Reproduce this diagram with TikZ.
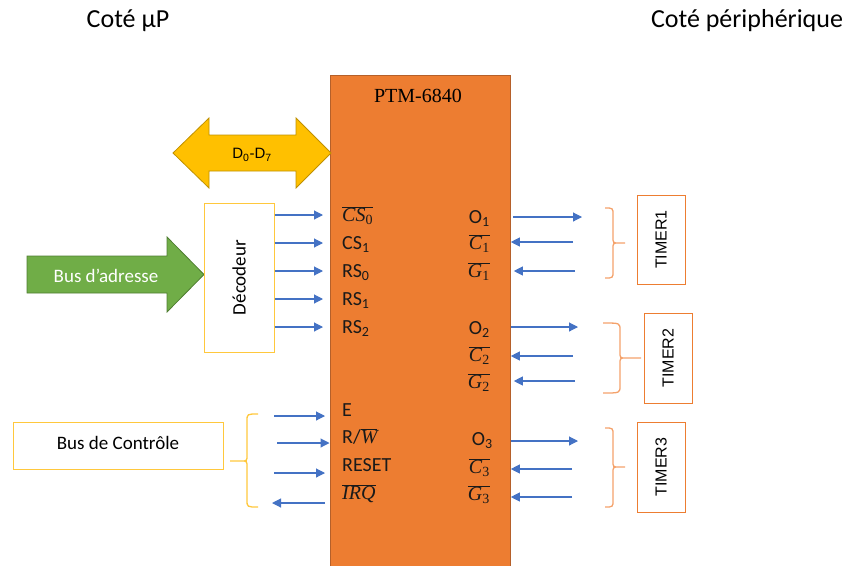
\documentclass[tikz,border=0pt]{standalone}
\usepackage{fontspec}
\setmainfont{Carlito}
\newfontfamily\serifpf{Liberation Serif}
\newfontfamily\arialf{Liberation Sans}
\usetikzlibrary{arrows.meta,calc}
\definecolor{chipor}{HTML}{ED7D31}
\definecolor{chipbd}{HTML}{B5602A}
\definecolor{busyel}{HTML}{FFC000}
\definecolor{busyelb}{HTML}{BF9000}
\definecolor{busgreen}{HTML}{70AD47}
\definecolor{busgreenb}{HTML}{507E32}
\definecolor{arrblue}{HTML}{4472C4}
\definecolor{yelbox}{HTML}{FFC83D}
\definecolor{obr}{HTML}{F4A26B}
\definecolor{txtc}{HTML}{1A1A1A}
\newcommand\ovlab[2]{$\overline{\hbox{\serifpf\itshape #1\textsubscript{\upshape #2}}}$}
\newcommand\ovlone[1]{$\overline{\hbox{\serifpf\itshape #1}}$}
\tikzset{
  barrow/.style={draw=arrblue, line width=1.1pt, -{Triangle[length=9pt,width=9pt]}},
  pinL/.style={font=\fontsize{20}{24}\selectfont, text=txtc, inner sep=0pt, anchor=west, text height=17pt, text depth=4pt},
  pinR/.style={font=\fontsize{20}{24}\selectfont, text=txtc, inner sep=0pt, anchor=east, text height=17pt, text depth=4pt},
  timerbox/.style={draw=chipor, line width=1pt, fill=white, minimum width=48pt, inner sep=0pt},
  timertxt/.style={rotate=90, font=\arialf\fontsize{16}{18}\selectfont},
  obrace/.style={draw=obr, line width=1.3pt},
  ybrace/.style={draw=yelbox, line width=1.3pt},
  ttl/.style={font=\fontsize{26}{30}\selectfont}
}
\begin{document}
\begin{tikzpicture}[x=1pt,y=-1pt]
\useasboundingbox (0,0) rectangle (853,565);

% titles
\node[ttl] (tleft) at (128,21) {Coté µP};
\node[ttl] (tright) at (747,21) {Coté périphérique};

% chip
\node[draw=chipbd, fill=chipor, line width=0.8pt, minimum width=180pt, minimum height=495pt, inner sep=0pt, anchor=north west] (chip) at (330,75) {};
\node[font=\serifpf\fontsize{20}{22}\selectfont] (chipname) at (418,96) {PTM-6840};

% data bus double arrow
\draw[fill=busyel, draw=busyelb, line width=0.8pt] (173,153) -- (209,118) -- (209,135) -- (296,135) -- (296,118) -- (331,153) -- (296,188) -- (296,171) -- (209,171) -- (209,188) -- cycle;
\node[font=\arialf\fontsize{15}{18}\selectfont] (dbus) at (252,155) {D\textsubscript{0}-D\textsubscript{7}};

% address bus arrow
\draw[fill=busgreen, draw=busgreenb, line width=0.8pt] (27,256) -- (167,256) -- (167,237) -- (204,274.5) -- (167,312) -- (167,293) -- (27,293) -- cycle;
\node[text=white, font=\fontsize{19}{22}\selectfont] (adr) at (106,276) {Bus d’adresse};

% decoder
\node[draw=yelbox, fill=white, line width=1pt, minimum width=70pt, minimum height=149pt, inner sep=0pt] (dec) at (239,277.5) {};
\node[rotate=90, font=\fontsize{19}{22}\selectfont] (decl) at (dec.center) {Décodeur};

% control bus box
\node[draw=yelbox, fill=white, line width=1pt, minimum width=210pt, minimum height=47pt, inner sep=0pt] (ctrl) at (118,445.5) {};
\node[font=\fontsize{19}{22}\selectfont] (ctrll) at (118,443) {Bus de Contrôle};

% left brace (yellow)
\draw[ybrace] (258,414) .. controls (247,414) .. (247,421) -- (247,455) .. controls (247,461) .. (241,461) -- (230,461)
  (241,461) .. controls (247,461) .. (247,467) -- (247,500) .. controls (247,507) .. (258,507);

% left pins
\node[pinL] (cs0) at (342,215) {\ovlab{CS}{0}};
\node[pinL] (cs1) at (342,243) {CS\textsubscript{1}};
\node[pinL] (rs0) at (342,271) {RS\textsubscript{0}};
\node[pinL] (rs1) at (342,299) {RS\textsubscript{1}};
\node[pinL] (rs2) at (342,327) {RS\textsubscript{2}};
\node[pinL] (pe) at (342,410) {E};
\node[pinL] (prw) at (342,437) {R/\ovlone{W}};
\node[pinL] (preset) at (342,465) {RESET};
\node[pinL] (pirq) at (342,493) {\ovlone{IRQ}};

% right pins
\node[pinR] (o1) at (490,217) {O\textsubscript{1}};
\node[pinR] (c1) at (490,243) {\ovlab{C}{1}};
\node[pinR] (g1) at (490,271) {\ovlab{G}{1}};
\node[pinR] (o2) at (490,328) {O\textsubscript{2}};
\node[pinR] (c2) at (490,355) {\ovlab{C}{2}};
\node[pinR] (g2) at (490,382) {\ovlab{G}{2}};
\node[pinR] (o3) at (493,439) {O\textsubscript{3}};
\node[pinR] (c3) at (490,467) {\ovlab{C}{3}};
\node[pinR] (g3) at (490,494) {\ovlab{G}{3}};

% decoder arrows
\foreach \p in {cs0,cs1,rs0,rs1,rs2}
  \draw[barrow, shorten >=7pt] (dec.east |- \p.west) -- (chip.west |- \p.west);

% control arrows
\coordinate (aE) at (274,416);
\coordinate (aRW) at (277,443);
\coordinate (aRS) at (274,473);
\coordinate (aIRQ) at (272,503);
\draw[barrow, shorten >=5pt] (aE) -- (aE -| chip.west);
\draw[barrow, shorten >=0.5pt] (aRW) -- (aRW -| chip.west);
\draw[barrow, shorten >=5pt] (aRS) -- (aRS -| chip.west);
\draw[barrow, shorten <=5pt] (aIRQ -| chip.west) -- (aIRQ);

% right arrows
\coordinate (r1) at (582,217);
\coordinate (r2) at (573,242);
\coordinate (r3) at (575,271);
\coordinate (r4) at (578,327);
\coordinate (r5) at (573,356);
\coordinate (r6) at (575,381);
\coordinate (r7) at (578,441);
\coordinate (r8) at (572,469);
\coordinate (r9) at (572,497);
\draw[barrow, shorten <=2pt] (r1 -| chip.east) -- (r1);
\draw[barrow] (r2) -- (r2 -| chip.east);
\draw[barrow, shorten >=3pt] (r3) -- (r3 -| chip.east);
\draw[barrow] (r4 -| chip.east) -- (r4);
\draw[barrow] (r5) -- (r5 -| chip.east);
\draw[barrow, shorten >=3pt] (r6) -- (r6 -| chip.east);
\draw[barrow] (r7 -| chip.east) -- (r7);
\draw[barrow] (r8) -- (r8 -| chip.east);
\draw[barrow] (r9) -- (r9 -| chip.east);

% orange braces
\draw[obrace] (605,208) .. controls (613,208) .. (613,215) -- (613,237) .. controls (613,243) .. (619,243) -- (625,243)
  (619,243) .. controls (613,243) .. (613,249) -- (613,271) .. controls (613,278) .. (605,278);
\draw[obrace] (603,323) .. controls (620,323) .. (620,330) -- (620,352) .. controls (620,358) .. (626,358) -- (641,358)
  (626,358) .. controls (620,358) .. (620,364) -- (620,386) .. controls (620,393) .. (603,393);
\draw[obrace] (605,428) .. controls (613,428) .. (613,435) -- (613,461) .. controls (613,467) .. (619,467) -- (625,467)
  (619,467) .. controls (613,467) .. (613,473) -- (613,500) .. controls (613,507) .. (605,507);

% timers
\node[timerbox, minimum height=89pt] (t1) at (661,239.5) {};
\node[timertxt] (t1l) at (t1.center) {TIMER1};
\node[timerbox, minimum height=90pt] (t2) at (668,358) {};
\node[timertxt] (t2l) at (t2.center) {TIMER2};
\node[timerbox, minimum height=90pt] (t3) at (661,467) {};
\node[timertxt] (t3l) at (t3.center) {TIMER3};
\end{tikzpicture}
\end{document}
